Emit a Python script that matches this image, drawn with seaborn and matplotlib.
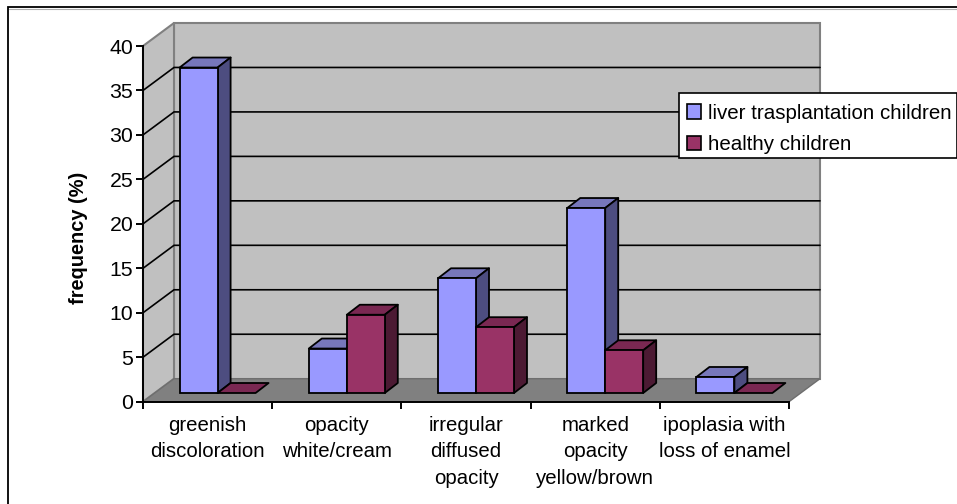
import matplotlib
matplotlib.use('Agg')
import matplotlib.pyplot as plt
from matplotlib.lines import Line2D
from matplotlib.patches import Polygon, Rectangle
import pandas as pd
import seaborn as sns

categories = ['greenish\ndiscoloration', 'opacity\nwhite/cream', 'irregular\ndiffused\nopacity',
              'marked\nopacity\nyellow/brown', 'ipoplasia with\nloss of enamel']
liver_values = [36.6, 5.0, 12.9, 20.8, 1.8]
healthy_values = [0, 8.8, 7.4, 4.8, 0]
series_names = ['liver trasplantation children', 'healthy children']
y_ticks = [0, 5, 10, 15, 20, 25, 30, 35, 40]

W, H = 957, 504
# front plane of the fake 3d box, pixels
LEFT, RIGHT, TOP, BOTTOM = 143, 789, 46, 401.7
WALL_DX, WALL_DY = 31, 23
BAR_DX, BAR_DY = 10, 8.7
CAP_DX, CAP_DY = 13, 10

front = {'liver': ('#9999FF', '#7777BB', '#4D4D80'), 'healthy': ('#993366', '#7A2852', '#4C1A33')}

sns.set_theme(style='white')
plt.rcParams['font.family'] = ['Liberation Sans', 'DejaVu Sans']

df = pd.DataFrame({
    'category': categories * 2,
    'frequency': liver_values + healthy_values,
    'group': [series_names[0]] * 5 + [series_names[1]] * 5,
})

fig = plt.figure(figsize=(W / 100, H / 100), dpi=100, facecolor='white')
ax = fig.add_axes([LEFT / W, 1 - BOTTOM / H, (RIGHT - LEFT) / W, (BOTTOM - TOP) / H])
bar_ax = fig.add_axes([(LEFT + BAR_DX) / W, 1 - (BOTTOM - BAR_DY) / H, (RIGHT - LEFT) / W, (BOTTOM - TOP) / H])

sns.barplot(data=df, x='category', y='frequency', hue='group', ax=bar_ax, width=0.588, gap=0,
            palette=[front['liver'][0], front['healthy'][0]], saturation=1,
            edgecolor='black', linewidth=1.3, legend=False)
bar_ax.set_xlim(-0.5, 4.5)
bar_ax.set_ylim(0, 40)
bar_ax.axis('off')

ax.set_xlim(-0.5, 4.5)
ax.set_ylim(0, 40)
px_x = 5 / (RIGHT - LEFT)
px_y = 40 / (BOTTOM - TOP)
wx, wy = WALL_DX * px_x, WALL_DY * px_y
cx, cy = CAP_DX * px_x, CAP_DY * px_y

# walls and floor
ax.add_patch(Polygon([(-0.5 + wx, wy), (4.5 + wx, wy), (4.5 + wx, 40 + wy), (-0.5 + wx, 40 + wy)],
                     fc='#C0C0C0', ec='#808080', lw=1.5, clip_on=False, zorder=1))
ax.add_patch(Polygon([(-0.5, 0), (-0.5 + wx, wy), (-0.5 + wx, 40 + wy), (-0.5, 40)],
                     fc='#C0C0C0', ec='#808080', lw=1.5, clip_on=False, zorder=1))
ax.add_patch(Polygon([(-0.5, 0), (4.5, 0), (4.5 + wx, wy), (-0.5 + wx, wy)],
                     fc='#808080', ec='#6e6e6e', lw=1, clip_on=False, zorder=1))
for t in y_ticks[1:-1]:
    ax.plot([-0.5, -0.5 + wx, 4.5 + wx], [t, t + wy, t + wy], color='black', lw=1.2,
            clip_on=False, zorder=2, solid_joinstyle='miter')

# extrude the seaborn bars
bars = [p for p in bar_ax.patches if isinstance(p, Rectangle)]
for i, bar in enumerate(bars):
    colors = front['liver'] if i < 5 else front['healthy']
    x0, x1 = bar.get_x(), bar.get_x() + bar.get_width()
    h = bar.get_height()
    z = 2 if i < 5 else 4
    bar_ax.add_patch(Polygon([(x0, h), (x1, h), (x1 + cx, h + cy), (x0 + cx, h + cy)], fc=colors[1],
                             ec='black', lw=1.3, zorder=z, clip_on=False, joinstyle='round'))
    if h > 0:
        bar_ax.add_patch(Polygon([(x1, 0), (x1 + cx, cy), (x1 + cx, h + cy), (x1, h)], fc=colors[2],
                                 ec='black', lw=1.3, zorder=z, clip_on=False, joinstyle='round'))
        bar.set_zorder(z + 1)
    else:
        bar.set_visible(False)
    bar.set_clip_on(False)

sns.despine(ax=ax, top=True, right=True)
ax.patch.set_visible(False)
for side in ['left', 'bottom']:
    ax.spines[side].set_color('black')
    ax.spines[side].set_linewidth(1.4)
    ax.spines[side].set_zorder(3)
ax.set_yticks(y_ticks)
ax.set_xticks([i + 0.5 for i in range(-1, 5)], minor=False)
ax.set_xticklabels([])
ax.set_xticks(range(5), labels=categories, minor=True)
ax.tick_params(axis='x', which='major', length=5, width=1.4, color='black', bottom=True)
ax.tick_params(axis='x', which='minor', length=0, pad=10, labelsize=14.7, labelcolor='black')
ax.tick_params(axis='y', length=5, width=1.4, color='black', left=True, labelsize=15.3, labelcolor='black', pad=2)
for label in ax.get_xticklabels(minor=True):
    label.set_linespacing(1.5)
ax.set_ylabel('frequency (%)', fontsize=14.4, fontweight='bold', color='black')
ax.yaxis.set_label_coords(-0.085, 0.46)
ax.set_xlabel('')

# legend box drawn apart, the rows sit lower than the frame's own padding allows
fig.add_artist(Rectangle((679 / W, 1 - 158 / H), 277.5 / W, 65 / H, transform=fig.transFigure,
                         fc='white', ec='black', lw=1.2, zorder=9))
handles = [Rectangle((0, 0), 1, 1, fc=front['liver'][0], ec='black', lw=1.2),
           Rectangle((0, 0), 1, 1, fc=front['healthy'][0], ec='black', lw=1.2)]
leg = fig.legend(handles, series_names, loc='upper left', bbox_to_anchor=(679 / W, 1 - 95.5 / H),
                 borderaxespad=0, fontsize=14.75, frameon=False, handlelength=0.68, handleheight=0.68,
                 handletextpad=0.36, borderpad=0.4, labelspacing=0.61, labelcolor='black')
leg.set_zorder(10)

# chart frame, only top and left sides show in the crop
fig.add_artist(Line2D([8 / W, 8 / W, 1], [0, 1 - 7 / H, 1 - 7 / H], transform=fig.transFigure,
                      color='black', lw=1.3, solid_joinstyle='miter'))
fig.add_artist(Line2D([9 / W, 1], [1 - 8.5 / H, 1 - 8.5 / H], transform=fig.transFigure,
                      color='#b0b0b0', lw=0.8))

fig.savefig('out.png', dpi=100)
